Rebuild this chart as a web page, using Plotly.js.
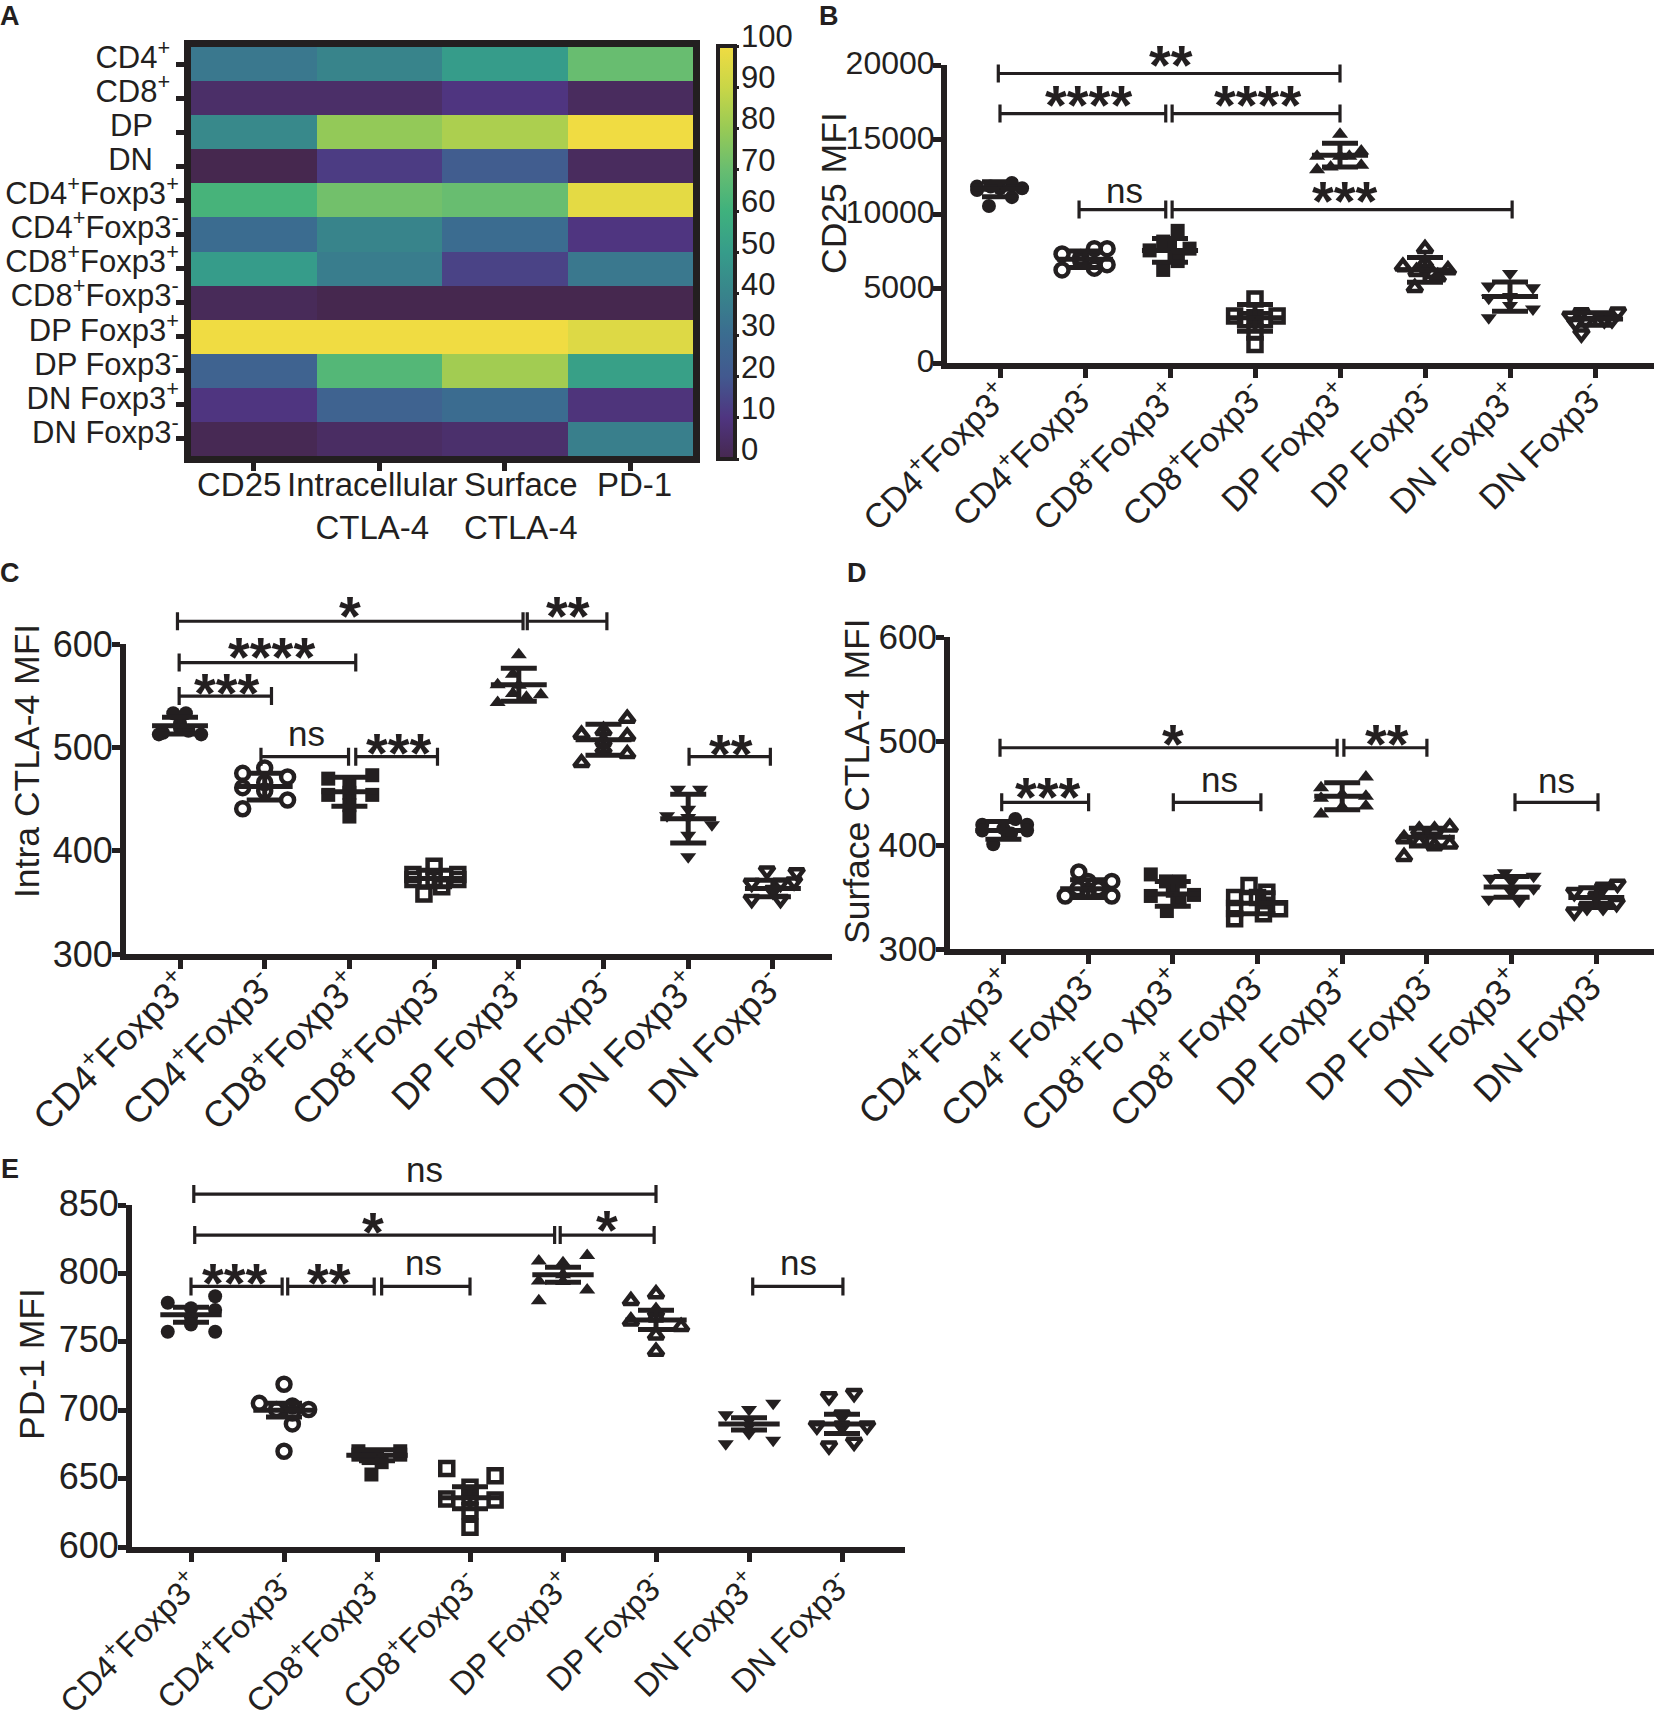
<!DOCTYPE html>
<html lang="en">
<head>
    <meta charset="UTF-8">
    <title>MFI panels</title>
    <script src="https://cdn.plot.ly/plotly-3.0.1.min.js"></script>
    <style>body { margin: 0; background: white; }</style>
</head>

<body>
<div id="plot"></div>
</body>

<script>
    // panel A
    let heatRows = ["CD4<sup>+</sup>\u00a0", "CD8<sup>+</sup>\u00a0", "DP\u00a0\u00a0\u00a0", "DN\u00a0\u00a0\u00a0",
        "CD4<sup>+</sup>Foxp3<sup>+</sup>", "CD4<sup>+</sup>Foxp3<sup>-</sup>", "CD8<sup>+</sup>Foxp3<sup>+</sup>", "CD8<sup>+</sup>Foxp3<sup>-</sup>",
        "DP Foxp3<sup>+</sup>", "DP Foxp3<sup>-</sup>", "DN Foxp3<sup>+</sup>", "DN Foxp3<sup>-</sup>"]
    let heatCols = [0, 1, 2, 3]
    let heatValues = [
        [35, 40, 50, 70],
        [5, 5, 10, 3],
        [42, 79, 84, 100],
        [0, 12, 22, 3],
        [62, 72, 70, 97],
        [30, 40, 30, 10],
        [50, 37, 14, 35],
        [2, 0, 0, 0],
        [100, 100, 100, 95],
        [25, 65, 82, 52],
        [10, 25, 30, 9],
        [1, 4, 6, 38]
    ]
    let heatColLabels = [["CD25", -0.12], ["Intracellular<br>CTLA-4", 0.95], ["Surface<br>CTLA-4", 2.13], ["PD-1", 3.03]]
    let barTicks = [0, 10, 20, 30, 40, 50, 60, 70, 80, 90, 100]
    let viridisMuted = [[0, "#46284f"], [0.1, "#4f3580"], [0.2, "#42598f"], [0.3, "#3b6c90"], [0.4, "#38848b"],
        [0.5, "#369c8a"], [0.6, "#3fb17d"], [0.7, "#68bd70"], [0.8, "#98ca55"], [0.9, "#c9d647"], [1, "#f0dc42"]]

    // x labels
    let groups = ["CD4<sup>+</sup>Foxp3<sup>+</sup>", "CD4<sup>+</sup>Foxp3<sup>-</sup>", "CD8<sup>+</sup>Foxp3<sup>+</sup>", "CD8<sup>+</sup>Foxp3<sup>-</sup>",
        "DP Foxp3<sup>+</sup>", "DP Foxp3<sup>-</sup>", "DN Foxp3<sup>+</sup>", "DN Foxp3<sup>-</sup>"]
    let groupsD = ["CD4<sup>+</sup>Foxp3<sup>+</sup>", "CD4<sup>+</sup> Foxp3<sup>-</sup>", "CD8<sup>+</sup>Fo xp3<sup>+</sup>", "CD8<sup>+</sup> Foxp3<sup>-</sup>",
        "DP Foxp3<sup>+</sup>", "DP Foxp3<sup>-</sup>", "DN Foxp3<sup>+</sup>", "DN Foxp3<sup>-</sup>"]
    let symbols = ["circle", "circle-open", "square", "square-open", "triangle-up", "triangle-up-open", "triangle-down", "triangle-down-open"]

    // panel B, CD25
    let bValues = [
        [12087, 11850, 11730, 11730, 11610, 11850, 11130, 10537],
        [7676, 7676, 7320, 7080, 6600, 6365, 6246, 6840],
        [8870, 8150, 7676, 7557, 7080, 6246, 7915, 6840],
        [4290, 3147, 3147, 3030, 2908, 2908, 2074, 1240],
        [15350, 14230, 13870, 13870, 13280, 12970, 13160, 13870],
        [7676, 6485, 6246, 6720, 5770, 6127, 5054, 6000],
        [6000, 5173, 5054, 4458, 4340, 3620, 3030, 3860],
        [3385, 3433, 3147, 2908, 2790, 2908, 2670, 1955]
    ]
    let bOffsets = [
        [.14, -.27, .26, 0, -.27, -.11, .14, -.13],
        [.26, .11, -.27, -.05, .26, .11, -.27, -.05],
        [.09, -.08, .23, -.24, .09, -.08, 0, .09],
        [0, -.24, .26, 0, -.11, .11, 0, 0],
        [0, .25, -.27, 0, .25, -.27, -.11, .11],
        [0, -.26, .27, 0, .15, -.1, -.12, .09],
        [0, -.25, .27, 0, -.25, .27, -.25, 0],
        [-.16, .27, -.29, .11, -.11, .2, -.23, -.16]
    ]
    let bMeans = [11660, 6960, 7557, 3030, 13950, 6246, 4458, 2956]
    let bSds = [500, 550, 800, 900, 800, 830, 980, 420]
    let bBrackets = [[-.02, 4, 19430], [0, 1.95, 16740], [2.025, 4, 16740], [.93, 1.95, 10300], [2.025, 6.025, 10300]]
    let bMarks = [["**", 2.01, 20670], ["****", 1.04, 17930], ["****", 3.03, 17930], ["ns", 1.46, 11610], ["***", 4.06, 11490]]

    // panel C, intracellular CTLA-4
    let cValues = [
        [533, 533, 523, 518, 516, 514, 512.5, 512.5],
        [480, 474.8, 471.4, 461, 457.7, 449, 440.6, 466],
        [473, 469.7, 464.6, 454, 454, 456, 444, 433],
        [385, 377, 377, 372, 372, 365, 358, 372],
        [589.7, 570.8, 560.5, 551, 543.4, 552, 548.5, 560],
        [528, 512.5, 510.8, 516, 505.7, 493.7, 485, 498.8],
        [459.4, 459.4, 433.7, 425, 432, 414.8, 394, 440],
        [380.6, 378.8, 370, 368.6, 368.6, 353, 353, 361.7]
    ]
    let cOffsets = [
        [-.08, .07, 0, 0, .1, -.2, -.25, .25],
        [0, -.26, .27, -.26, 0, .27, -.26, 0],
        [.27, -.25, 0, .27, -.25, 0, 0, 0],
        [0, -.25, .28, -.25, .28, .09, -.12, 0],
        [0, -.07, -.25, .26, -.25, -.07, .09, 0],
        [.28, -.26, .28, 0, 0, .28, -.26, 0],
        [-.12, .14, -.25, .28, 0, 0, 0, 0],
        [-.07, .28, .25, -.25, .09, -.25, .09, 0]
    ]
    let cMeans = [521, 462, 457, 373, 560.5, 507.4, 431, 363.4]
    let cSds = [8, 13, 14, 8, 16, 15, 23.5, 8]
    let cBrackets = [[-.03, 4.05, 622], [4.1, 5.04, 622], [-.01, 2.075, 582], [-.01, 1.08, 549.6], [.956, 1.99, 491], [2.075, 3.04, 491], [6.01, 6.97, 491]]
    let cMarks = [["*", 2.01, 636], ["**", 4.58, 636], ["****", 1.08, 596.5], ["***", .56, 562], ["ns", 1.49, 513.6], ["***", 2.59, 504], ["**", 6.51, 503]]

    // panel D, surface CTLA-4
    let dValues = [
        [425, 419.5, 419.5, 416, 414, 414, 411, 400.7],
        [374, 365, 365, 351, 351, 356, 358, 358],
        [371.7, 365, 356, 351, 352, 346, 336.5, 365],
        [361, 349.5, 354.6, 349.5, 339, 338.6, 334, 329],
        [465.5, 455, 446.8, 445, 448.5, 437.5, 436.5, 429.7],
        [417, 414, 414, 405.8, 400.7, 399, 402.4, 388.7],
        [373.4, 370, 368, 365, 358, 354.6, 347.8, 346],
        [362.5, 359.7, 354.6, 351, 344, 341, 341, 335.8]
    ]
    let dOffsets = [
        [.14, -.25, .28, 0, -.25, .28, .09, -.12],
        [-.11, .28, 0, .28, -.27, 0, -.12, .12],
        [-.26, .08, 0, -.26, .25, .08, -.07, -.08],
        [-.1, -.27, .11, 0, -.27, .26, .07, -.27],
        [.28, -.25, .28, -.25, 0, .28, 0, -.25],
        [.27, -.09, .09, -.27, .27, .09, -.09, -.27],
        [-.08, .26, -.25, 0, .26, 0, -.27, .09],
        [.25, .08, -.26, 0, .24, .08, -.11, -.26]
    ]
    let dMeans = [414, 358, 353, 344, 446.8, 407.5, 359.7, 349.5]
    let dSds = [8.5, 8.5, 12, 10, 13, 8.5, 10, 9.5]
    let dBrackets = [[-.04, 3.94, 493.5], [4.02, 5, 493.5], [-.02, 1.006, 441], [2.006, 3.04, 441], [6.04, 7.02, 441]]
    let dMarks = [["*", 2, 506.5], ["**", 4.53, 506.5], ["***", .53, 455], ["ns", 2.55, 462.8], ["ns", 6.53, 462]]

    // panel E, PD-1
    let eValues = [
        [778.6, 783.3, 774.6, 773.3, 768, 762.7, 757.4, 757.4],
        [719, 705, 700.5, 703, 700.5, 698, 690, 670],
        [670, 670, 667.5, 667.5, 667, 665, 662, 653],
        [657.4, 652, 643.6, 635, 634.4, 637, 626.5, 614.5],
        [813, 809, 807.7, 794.4, 787.8, 780, 794, 799],
        [785, 780, 765, 761, 754.8, 743, 768, 772],
        [696.6, 700.5, 705, 688.6, 683, 675.4, 678, 692.6],
        [710, 712.4, 688.6, 688.6, 696.6, 674, 676.7, 688.6]
    ]
    let eOffsets = [
        [-.25, .26, 0, .26, 0, 0, -.25, .26],
        [0, -.265, .265, .09, -.08, .09, .09, 0],
        [-.2, .25, -.2, .25, 0, -.09, .05, -.06],
        [-.25, .27, 0, -.25, .27, 0, 0, 0],
        [.26, -.26, 0, -.26, .26, -.26, 0, 0],
        [0, -.27, -.27, .27, 0, 0, 0, 0],
        [-.25, 0, .26, 0, 0, -.25, .26, 0],
        [-.14, .13, -.27, .27, 0, -.14, .13, 0]
    ]
    let eMeans = [769.8, 700, 667, 636, 799, 766, 690, 690]
    let eSds = [5.5, 5, 4, 8, 5.5, 7, 4.5, 7]
    let eBrackets = [[.03, 5, 858], [.04, 3.91, 828], [3.97, 4.98, 828], [0, .98, 790.5], [1.04, 1.97, 790.5], [2.05, 3, 790.5], [6.04, 7.01, 790.5]]
    let eMarks = [["ns", 2.51, 876], ["*", 1.96, 837], ["*", 4.47, 839], ["***", .47, 799.7], ["**", 1.48, 800], ["ns", 2.5, 808], ["ns", 6.53, 807.7]]

    const W = 1654, H = 1710
    const ink = "#231f20"
    const fontName = "Liberation Sans, Arial, sans-serif"
    let px = x => x / W
    let py = y => 1 - y / H

    let traces = []
    let annotations = []
    let layout = {
        width: W, height: H,
        margin: {l: 0, r: 0, t: 0, b: 0},
        paper_bgcolor: "white", plot_bgcolor: "rgba(0,0,0,0)",
        showlegend: false,
        font: {family: fontName, color: ink}
    }

    function note(text, x, y, size, extra) {
        annotations.push(Object.assign({
            text: text, x: x, y: y, xref: "paper", yref: "paper", showarrow: false,
            xanchor: "center", yanchor: "middle",
            font: {size: size, family: fontName, color: ink}
        }, extra || {}))
    }

    // heatmap
    traces.push({
        type: "heatmap", z: heatValues, x: heatCols, y: heatRows,
        colorscale: viridisMuted, zmin: 0, zmax: 100, xaxis: "x", yaxis: "y",
        colorbar: {
            thickness: 17, thicknessmode: "pixels", len: 413, lenmode: "pixels",
            x: px(718), xanchor: "left", y: py(459), yanchor: "bottom", xpad: 0, ypad: 0,
            outlinewidth: 4, outlinecolor: ink, tick0: 0, dtick: 10,
            ticks: "outside", ticklen: 2, tickwidth: 3, tickcolor: ink, showticklabels: false
        }
    })
    layout.xaxis = {
        domain: [px(191), px(693)], anchor: "y", range: [-0.5, 3.5], tickvals: heatCols, showticklabels: false,
        ticks: "outside", ticklen: 8, tickwidth: 5, tickcolor: ink,
        showline: true, mirror: true, linewidth: 7, linecolor: ink, showgrid: false, zeroline: false
    }
    layout.yaxis = {
        domain: [py(456), py(47)], anchor: "x", autorange: "reversed", type: "category", tickvals: heatRows, ticktext: heatRows,
        ticks: "outside", ticklen: 8, tickwidth: 5, tickcolor: ink, tickfont: {size: 31, family: fontName, color: ink},
        ticklabelshift: 7, ticklabelstandoff: -9,
        showline: true, mirror: true, linewidth: 7, linecolor: ink, showgrid: false, zeroline: false
    }
    for (let col of heatColLabels) {
        annotations.push({
            text: col[0], x: col[1], xref: "x", y: py(464), yref: "paper", yanchor: "top", showarrow: false, align: "center",
            font: {size: 33, family: fontName, color: ink}
        })
    }
    for (let tick of barTicks) {
        note(String(tick), px(739), py(450 - tick * 4.14), 31, {xanchor: "left"})
    }

    function addPanel(n, p) {
        let xKey = "xaxis" + n, yKey = "yaxis" + (2 * n - 2), y2Key = "yaxis" + (2 * n - 1)
        let xId = "x" + n, yId = "y" + (2 * n - 2), y2Id = "y" + (2 * n - 1)

        for (let g = 0; g < p.values.length; g++) {
            let open = symbols[g].endsWith("open")
            traces.push({
                type: "scatter", mode: "markers", xaxis: xId, yaxis: yId, cliponaxis: false,
                x: p.offsets[g].map(o => g + o), y: p.values[g],
                marker: {symbol: symbols[g], size: open ? 13 : 14, color: ink, line: {color: ink, width: open ? 4.5 : 0}}
            })
            traces.push({
                type: "scatter", mode: "markers", xaxis: xId, yaxis: yId, cliponaxis: false,
                x: [g], y: [p.means[g]], marker: {size: 1, color: ink},
                error_x: {type: "constant", value: 0.33, thickness: 5, width: 0, color: ink},
                error_y: {type: "constant", value: p.sds[g], thickness: 5, width: 18, color: ink}
            })
        }

        let tip = (p.hi - p.lo) / (p.bottom - p.top) * 9
        for (let b of p.brackets) {
            traces.push({
                type: "scatter", mode: "lines", xaxis: xId, yaxis: y2Id,
                x: [b[0], b[0], b[0], b[1], b[1], b[1]],
                y: [b[2] + tip, b[2] - tip, b[2], b[2], b[2] + tip, b[2] - tip],
                line: {color: ink, width: 3.2}
            })
        }
        for (let m of p.marks) {
            let stars = m[0] !== "ns"
            annotations.push({
                text: stars ? "<b>" + m[0] + "</b>" : m[0], x: m[1], y: m[2], xref: xId, yref: y2Id, showarrow: false,
                yshift: stars ? -9 : 0,
                font: {size: stars ? 56 : 35, family: fontName, color: ink}
            })
        }

        let left = (p.left - p.x0) / p.step, right = (p.right - p.x0) / p.step
        let extTop = p.top - 70
        let hi2 = p.lo + (p.hi - p.lo) * (p.bottom - extTop) / (p.bottom - p.top)

        layout[xKey] = {
            domain: [px(p.left), px(p.right)], anchor: yId, range: [left, right],
            tickvals: [0, 1, 2, 3, 4, 5, 6, 7], ticktext: p.labels, tickangle: -45,
            ticks: "outside", ticklen: 9, tickwidth: 5, tickcolor: ink, ticklabelstandoff: p.labelStandoff,
            tickfont: {size: p.labelSize, family: fontName, color: ink},
            showline: true, linewidth: 6, linecolor: ink, showgrid: false, zeroline: false
        }
        layout[yKey] = {
            domain: [py(p.bottom), py(p.top)], anchor: xId, range: [p.lo, p.hi],
            tickvals: p.ticks, tickformat: "d", ticks: "outside", ticklen: 8, tickwidth: 5, tickcolor: ink,
            tickfont: {size: p.tickSize, family: fontName, color: ink}, ticklabelshift: p.tickShift, ticklabelstandoff: -8,
            showline: true, linewidth: 6, linecolor: ink, showgrid: false, zeroline: false
        }
        layout[y2Key] = {
            domain: [py(p.bottom), py(Math.max(extTop, 0))], anchor: xId, visible: false,
            range: [p.lo, extTop >= 0 ? hi2 : p.lo + (p.hi - p.lo) * p.bottom / (p.bottom - p.top)]
        }
        note(p.title, px(p.titleX), py(p.titleY), 35.5, {textangle: -90})
    }

    addPanel(2, {
        values: bValues, offsets: bOffsets, means: bMeans, sds: bSds, brackets: bBrackets, marks: bMarks, labels: groups,
        ticks: [0, 5000, 10000, 15000, 20000], lo: 0, hi: 20000, top: 65, bottom: 363, tickSize: 32, tickShift: -2, labelSize: 34, labelStandoff: -16,
        left: 947, right: 1654, x0: 1000, step: 85, title: "CD25 MFI", titleX: 834, titleY: 193
    })
    addPanel(3, {
        values: cValues, offsets: cOffsets, means: cMeans, sds: cSds, brackets: cBrackets, marks: cMarks, labels: groups,
        ticks: [300, 400, 500, 600], lo: 300, hi: 600, top: 644, bottom: 954, tickSize: 36, tickShift: 0, labelSize: 36.5, labelStandoff: -20,
        left: 126, right: 832, x0: 180, step: 84.7, title: "Intra CTLA-4 MFI", titleX: 27, titleY: 761
    })
    addPanel(4, {
        values: dValues, offsets: dOffsets, means: dMeans, sds: dSds, brackets: dBrackets, marks: dMarks, labels: groupsD,
        ticks: [300, 400, 500, 600], lo: 300, hi: 600, top: 637, bottom: 949, tickSize: 35, tickShift: 0, labelSize: 36, labelStandoff: -18,
        left: 950, right: 1654, x0: 1003.4, step: 84.7, title: "Surface CTLA-4 MFI", titleX: 857, titleY: 781
    })
    addPanel(5, {
        values: eValues, offsets: eOffsets, means: eMeans, sds: eSds, brackets: eBrackets, marks: eMarks, labels: groups,
        ticks: [600, 650, 700, 750, 800, 850], lo: 600, hi: 850, top: 1205, bottom: 1547, tickSize: 36, tickShift: -2, labelSize: 32.5, labelStandoff: -10,
        left: 132, right: 905, x0: 191, step: 93, title: "PD-1 MFI", titleX: 32, titleY: 1364
    })

    note("<b>A</b>", px(10), py(16), 27)
    note("<b>B</b>", px(829), py(16), 27)
    note("<b>C</b>", px(10), py(573), 27)
    note("<b>D</b>", px(857), py(573), 27)
    note("<b>E</b>", px(10), py(1169), 27)

    layout.annotations = annotations
    Plotly.newPlot("plot", traces, layout, {displayModeBar: false})
</script>
</html>
